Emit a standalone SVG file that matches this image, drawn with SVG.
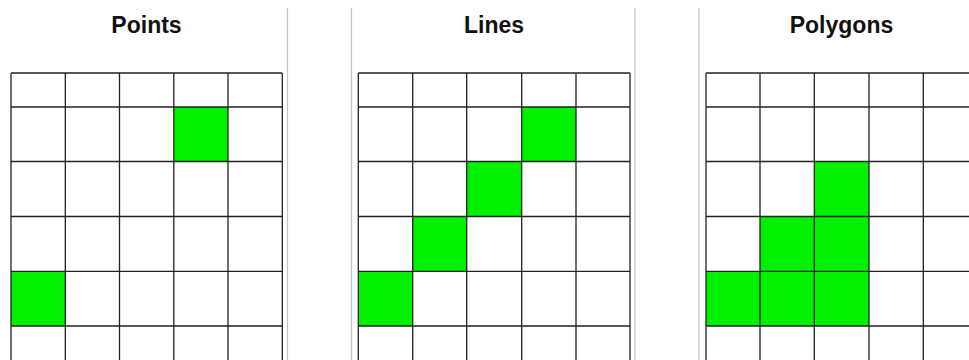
<svg xmlns="http://www.w3.org/2000/svg" width="969" height="360" viewBox="0 0 969 360">
<style>
.t{font-family:"Liberation Sans",Arial,sans-serif;font-weight:bold;font-size:23px;fill:#111;text-anchor:middle}
.g{fill:#00f000;stroke:none}
.gl{stroke:#222;stroke-width:1.3;fill:none}
.sep{stroke:#c4c4c4;stroke-width:1.2}
</style>
<rect width="969" height="360" fill="#fff"/>
<g id="separators">
<line class="sep" x1="287.5" y1="8" x2="287.5" y2="360"/>
<line class="sep" x1="351.5" y1="8" x2="351.5" y2="360"/>
<line class="sep" x1="635" y1="8" x2="635" y2="360"/>
<line class="sep" x1="699" y1="8" x2="699" y2="360"/>
</g>
<g id="points">
<text class="t" x="146.5" y="33">Points</text>
<rect class="g" x="173.8" y="107" width="54.2" height="54.5"/>
<rect class="g" x="11" y="271.3" width="54.3" height="54.7"/>
<path class="gl" d="M11 73V360M65.3 73V360M119.5 73V360M173.8 73V360M228 73V360M282.3 73V360M11 73H282.3M11 107H282.3M11 161.5H282.3M11 216.5H282.3M11 271.3H282.3M11 326H282.3"/>
</g>
<g id="lines">
<text class="t" x="494" y="33">Lines</text>
<rect class="g" x="521.7" y="107" width="54.3" height="54.5"/>
<rect class="g" x="466.7" y="161.5" width="55" height="55"/>
<rect class="g" x="412.7" y="216.5" width="54" height="54.8"/>
<rect class="g" x="358.3" y="271.3" width="54.4" height="54.7"/>
<path class="gl" d="M358.3 73V360M412.7 73V360M466.7 73V360M521.7 73V360M576 73V360M630 73V360M358.3 73H630M358.3 107H630M358.3 161.5H630M358.3 216.5H630M358.3 271.3H630M358.3 326H630"/>
</g>
<g id="polygons">
<text class="t" x="841.5" y="33">Polygons</text>
<rect class="g" x="814.3" y="161.5" width="54.7" height="55"/>
<rect class="g" x="760" y="216.5" width="109" height="54.8"/>
<rect class="g" x="706" y="271.3" width="163" height="54.7"/>
<path class="gl" d="M706 73V360M760 73V360M814.3 73V360M869 73V360M923.3 73V360M706 73H969M706 107H969M706 161.5H969M706 216.5H969M706 271.3H969M706 326H969"/>
</g>
</svg>
